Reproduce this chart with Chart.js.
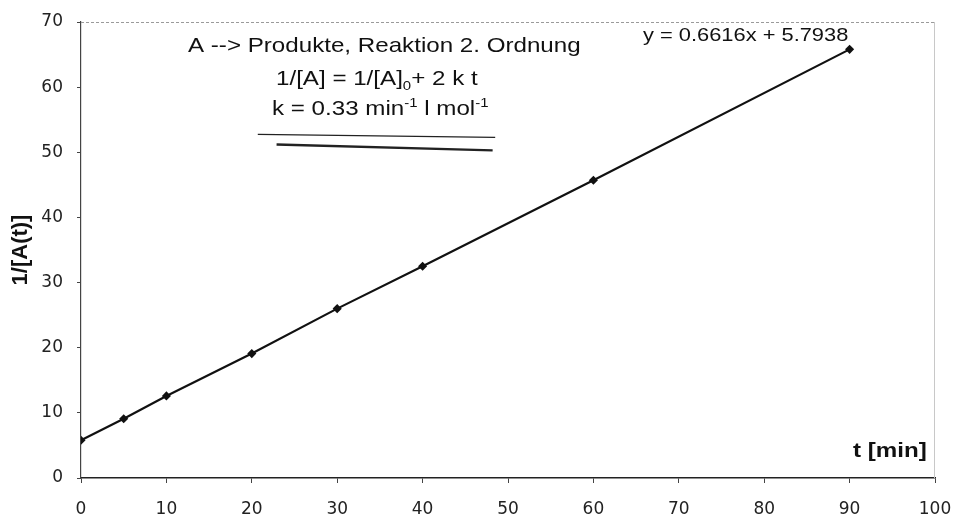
<!DOCTYPE html>
<html lang="en">
<head>
  <meta charset="UTF-8">
  <title>Reaktion 2. Ordnung</title>
  <script src="https://cdn.jsdelivr.net/npm/chart.js"></script>
  <style>
    body { margin: 0; background: #fff; }
    #wrap { width: 955px; height: 523px; }
  </style>
</head>
<body>
  <div id="wrap"><canvas id="chart" width="955" height="523"></canvas></div>
  <script>
    // measured values: t [min] and 1/[A(t)]
    const times = [0, 5, 10, 20, 30, 40, 60, 90];
    const invConc = [5.8, 9.1, 12.6, 19.1, 26.0, 32.5, 45.7, 65.8];

    const xTicks = [0, 10, 20, 30, 40, 50, 60, 70, 80, 90, 100];
    const yTicks = [0, 10, 20, 30, 40, 50, 60, 70];

    // the two hand-drawn underline strokes below the annotation (data coords)
    const strokeA = [[20.7, 52.75], [48.5, 52.3]];
    const strokeB = [[22.9, 51.2], [48.2, 50.3]];

    const font = '"Liberation Sans", Arial, sans-serif';
    const tickFont = '"DejaVu Sans", sans-serif';
    const stretch = 1.15; // the scanned original is a bit wider than tall

    // draw pieces of text with sub/superscripts, horizontally stretched
    function drawRich(ctx, parts, x, y, size, weight) {
      ctx.save();
      ctx.translate(x, y);
      ctx.scale(stretch, 1);
      let cx = 0;
      parts.forEach(p => {
        const s = p.sub || p.sup ? size * 0.62 : size;
        ctx.font = (weight || '') + ' ' + s + 'px ' + font;
        const dy = p.sub ? size * 0.22 : (p.sup ? -size * 0.4 : 0);
        ctx.fillText(p.t, cx, dy);
        cx += ctx.measureText(p.t).width;
      });
      ctx.restore();
    }

    const decor = {
      id: 'decor',
      beforeDatasetsDraw(chart) {
        const { ctx, chartArea: a } = chart;
        ctx.save();
        // faint frame at top and right
        ctx.strokeStyle = '#9a9a9a';
        ctx.lineWidth = 1;
        ctx.setLineDash([3, 2]);
        ctx.beginPath();
        ctx.moveTo(a.left, a.top + 0.5);
        ctx.lineTo(a.right, a.top + 0.5);
        ctx.stroke();
        ctx.setLineDash([]);
        ctx.strokeStyle = '#c8c8c8';
        ctx.beginPath();
        ctx.moveTo(a.right - 0.5, a.top);
        ctx.lineTo(a.right - 0.5, a.bottom);
        ctx.stroke();
        ctx.restore();
      },
      afterDraw(chart) {
        const { ctx, scales } = chart;
        const xs = scales.x, ys = scales.y;
        ctx.save();
        ctx.fillStyle = '#111';
        ctx.textBaseline = 'alphabetic';
        ctx.textAlign = 'left';

        drawRich(ctx, [{ t: 'A --> Produkte, Reaktion 2. Ordnung' }], 188, 52, 21);

        drawRich(ctx, [
          { t: '1/[A] = 1/[A]' }, { t: '0', sub: true }, { t: '+ 2 k t' }
        ], 276, 85, 21);

        drawRich(ctx, [
          { t: 'k = 0.33 min' }, { t: '-1', sup: true }, { t: ' l mol' }, { t: '-1', sup: true }
        ], 272, 115, 21);

        drawRich(ctx, [{ t: 'y = 0.6616x + 5.7938' }], 643, 41, 19);

        drawRich(ctx, [{ t: 't [min]' }], 853, 457, 21, 'bold');

        // underline strokes
        ctx.strokeStyle = '#222';
        [[strokeA, 1.3], [strokeB, 2.4]].forEach(([s, w]) => {
          ctx.lineWidth = w;
          ctx.beginPath();
          ctx.moveTo(xs.getPixelForValue(s[0][0]), ys.getPixelForValue(s[0][1]));
          ctx.lineTo(xs.getPixelForValue(s[1][0]), ys.getPixelForValue(s[1][1]));
          ctx.stroke();
        });
        ctx.restore();
      }
    };

    new Chart(document.getElementById('chart'), {
      type: 'line',
      data: {
        datasets: [{
          data: times.map((t, i) => ({ x: t, y: invConc[i] })),
          borderColor: '#111',
          backgroundColor: '#111',
          borderWidth: 2.2,
          pointStyle: 'rectRot',
          pointRadius: 3,
          pointHoverRadius: 3,
          tension: 0
        }]
      },
      options: {
        responsive: false,
        animation: false,
        events: [],
        layout: { padding: { top: 22, right: 20, left: 0, bottom: 0 } },
        plugins: { legend: { display: false }, tooltip: { enabled: false } },
        scales: {
          x: {
            type: 'linear',
            min: 0, max: 100,
            afterBuildTicks: s => { s.ticks = xTicks.map(v => ({ value: v })); },
            afterFit: s => { s.height = 45; s.paddingLeft = 0; s.paddingRight = 0; },
            border: { color: '#222', width: 1.5 },
            grid: { drawOnChartArea: false, tickLength: 5, tickColor: '#444' },
            ticks: {
              color: '#222', padding: 16,
              font: { family: tickFont, size: 17 },
              maxRotation: 0
            }
          },
          y: {
            min: 0, max: 70,
            afterBuildTicks: s => { s.ticks = yTicks.map(v => ({ value: v })); },
            afterFit: s => { s.width = 81; s.paddingTop = 0; s.paddingBottom = 0; },
            border: { color: '#444', width: 1.2 },
            grid: { drawOnChartArea: false, tickLength: 4, tickColor: '#444' },
            ticks: {
              color: '#222', padding: 14,
              font: { family: tickFont, size: 17 }
            },
            title: {
              display: true, text: '1/[A(t)]', color: '#111',
              font: { family: font, size: 22, weight: 'bold' },
              padding: { top: 8, bottom: 0 }
            }
          }
        }
      },
      plugins: [decor]
    });
  </script>
</body>
</html>
